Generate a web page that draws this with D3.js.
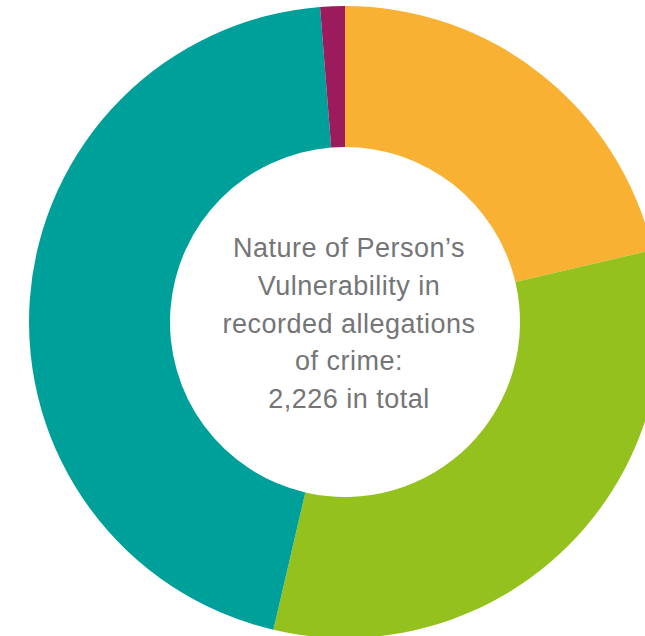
<!DOCTYPE html>
<html>
<head>
<meta charset="utf-8">
<script src="https://cdn.jsdelivr.net/npm/d3@7"></script>
<style>
  html, body { margin: 0; padding: 0; background: #ffffff; overflow: hidden; }
  svg { display: block; }
</style>
</head>
<body>
<svg id="chart" width="645" height="636"></svg>
<script>
// Data
const categories = ["Category A", "Category B", "Category C", "Category D"];
const values = [475, 719, 1004, 28];
const colors = ["#F8B133", "#95C11F", "#00A09A", "#9B1B5D"];
const centerLines = ["Nature of Person\u2019s", "Vulnerability in", "recorded allegations", "of crime:", "2,226 in total"];

const svg = d3.select("#chart");
const cx = 345, cy = 322, outerR = 316, innerR = 175;

const data = categories.map((c, i) => ({ name: c, value: values[i], color: colors[i] }));

const pie = d3.pie().sort(null).value(d => d.value).startAngle(0).endAngle(2 * Math.PI);
const arc = d3.arc().innerRadius(innerR).outerRadius(outerR);

const g = svg.append("g").attr("transform", `translate(${cx},${cy})`);

g.selectAll("path.slice")
  .data(pie(data))
  .join("path")
  .attr("class", "slice")
  .attr("d", arc)
  .attr("fill", d => d.data.color);

const lineH = 37.75;
const firstBaseline = 257 - cy;
g.append("text")
  .attr("text-anchor", "middle")
  .attr("font-family", "'Liberation Sans', Arial, Helvetica, sans-serif")
  .attr("font-size", 27)
  .attr("letter-spacing", "0.5px")
  .attr("fill", "#747577")
  .selectAll("tspan")
  .data(centerLines)
  .join("tspan")
  .attr("x", 4)
  .attr("y", (d, i) => firstBaseline + i * lineH)
  .text(d => d);
</script>
</body>
</html>
